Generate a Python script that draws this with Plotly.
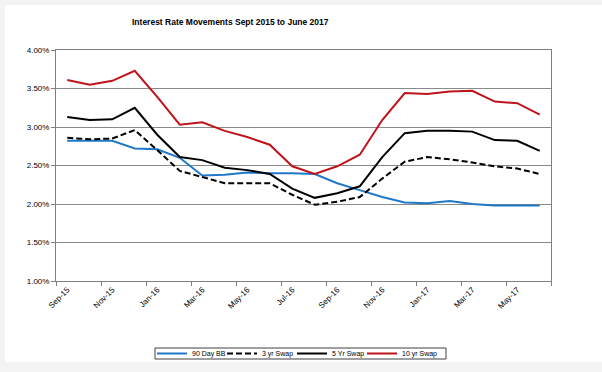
import plotly.graph_objects as go

months = ["Sep-15","Oct-15","Nov-15","Dec-15","Jan-16","Feb-16","Mar-16","Apr-16","May-16","Jun-16","Jul-16","Aug-16",
          "Sep-16","Oct-16","Nov-16","Dec-16","Jan-17","Feb-17","Mar-17","Apr-17","May-17","Jun-17"]

bb90 = [2.82,2.82,2.82,2.72,2.71,2.60,2.37,2.38,2.41,2.40,2.40,2.39,2.27,2.18,2.09,2.02,2.01,2.04,2.00,1.98,1.98,1.98]
swap3 = [2.86,2.84,2.85,2.96,2.70,2.43,2.35,2.27,2.27,2.27,2.12,1.99,2.03,2.09,2.33,2.55,2.61,2.58,2.54,2.49,2.46,2.39]
swap5 = [3.13,3.09,3.10,3.25,2.90,2.61,2.57,2.47,2.44,2.39,2.20,2.08,2.14,2.23,2.61,2.92,2.95,2.95,2.94,2.83,2.82,2.69]
swap10 = [3.61,3.55,3.60,3.73,3.39,3.03,3.06,2.95,2.87,2.77,2.49,2.39,2.49,2.64,3.09,3.44,3.43,3.46,3.47,3.33,3.31,3.16]

y_ticks = [1.0, 1.5, 2.0, 2.5, 3.0, 3.5, 4.0]
y_labels = ["1.00%", "1.50%", "2.00%", "2.50%", "3.00%", "3.50%", "4.00%"]

names = ["90 Day BB", "3 yr Swap", "5 Yr Swap", "10 yr Swap"]
colors = ["#1f78c8", "#000000", "#000000", "#c0141c"]
dashes = ["solid", "6px,3px", "solid", "solid"]
series = [bb90, swap3, swap5, swap10]

font = "Liberation Sans, Arial, sans-serif"
W, H = 495, 231  # plot area in px
legend_ids = ["legend", "legend2", "legend3", "legend4"]
legend_px = [152, 222, 292, 362]

fig = go.Figure()
for n, s, c, d, lg in zip(names, series, colors, dashes, legend_ids):
    fig.add_trace(go.Scatter(x=months, y=s, mode="lines", name=n, legend=lg,
                             line=dict(color=c, width=2, dash=d)))

layout_legends = {}
for lg, px in zip(legend_ids, legend_px):
    layout_legends[lg] = dict(orientation="h", x=(px - 56) / W, xanchor="left",
                              y=(281 - 353.5) / H, yanchor="middle",
                              borderwidth=0, bgcolor="rgba(0,0,0,0)",
                              font=dict(size=7), itemwidth=30)

fig.update_layout(
    width=602, height=372,
    margin=dict(l=56, r=51, t=50, b=91, autoexpand=False),
    paper_bgcolor="#f3f3f3", plot_bgcolor="white",
    font=dict(family=font, size=8, color="#000000"),
    showlegend=True,
    shapes=[dict(type="rect", xref="paper", yref="paper",
                 x0=-51/W, x1=546/W, y0=-81/H, y1=276/H,
                 fillcolor="white", line=dict(width=0), layer="below"),
            dict(type="rect", xref="paper", yref="paper",
                 x0=(155-56)/W, x1=(446-56)/W, y0=(281-359)/H, y1=(281-348)/H,
                 fillcolor="rgba(0,0,0,0)", line=dict(width=1, color="#404040"), layer="below")],
    annotations=[dict(text="<b>Interest Rate Movements Sept 2015 to June 2017</b>",
                      xref="paper", yref="paper", x=(230-56)/W, y=(281-22)/H,
                      xanchor="center", yanchor="middle", showarrow=False,
                      font=dict(size=8.5, family=font))],
    **layout_legends,
)
fig.update_xaxes(type="category", range=[-0.5, 21.5], tickmode="linear", tick0=0, dtick=2,
                 tickson="boundaries", ticks="outside", ticklen=4, tickcolor="#808080",
                 tickangle=-45, showgrid=False, showline=True, linecolor="#808080",
                 linewidth=1, mirror=True, tickfont=dict(size=8))
fig.update_yaxes(range=[1.0, 4.0], tickmode="array", tickvals=y_ticks, ticktext=y_labels,
                 ticks="outside", ticklen=4, tickcolor="#808080",
                 showgrid=True, gridcolor="#8a8a8a", gridwidth=1, zeroline=False,
                 showline=True, linecolor="#808080", linewidth=1, mirror=True,
                 tickfont=dict(size=8))

fig.write_html("out.html", config={"displayModeBar": False},
               post_script="document.body.style.margin='0';document.body.style.overflow='hidden';")
